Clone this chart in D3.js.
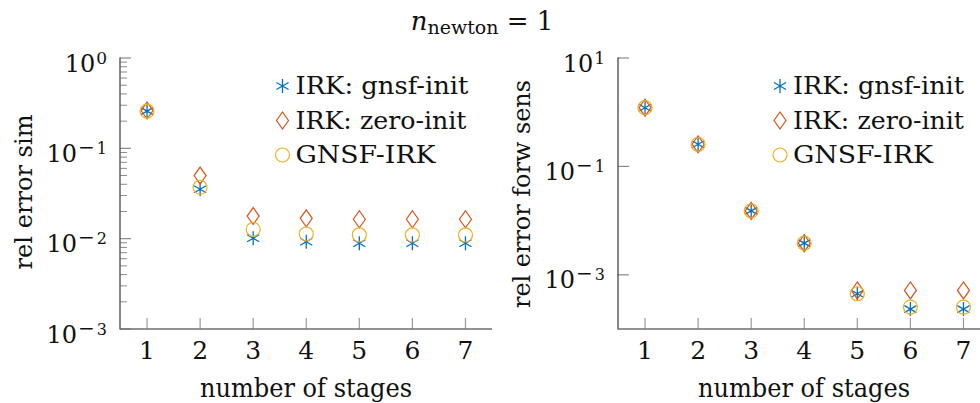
<!DOCTYPE html>
<html><head><meta charset="utf-8">
<script src="https://cdn.jsdelivr.net/npm/d3@7"></script>
<style>
html,body{margin:0;padding:0;background:#fff;}
svg{display:block;}
text{font-family:"DejaVu Serif","Liberation Serif",serif;fill:#111;}
</style></head>
<body>
<svg id="chart" width="980" height="403"></svg>
<script>
// ---- data ----
const stages = [1, 2, 3, 4, 5, 6, 7];
const seriesNames = ["IRK: gnsf-init", "IRK: zero-init", "GNSF-IRK"];
const seriesColors = ["#0072BD", "#D95319", "#EDB120"];
const seriesMarkers = ["asterisk", "diamond", "circle"];

const simGnsfInit = [0.258, 0.0352, 0.0101, 0.00925, 0.00889, 0.00889, 0.00889];
const simZeroInit = [0.262, 0.0499, 0.0178, 0.0168, 0.0164, 0.0164, 0.0164];
const simGnsfIrk  = [0.258, 0.0371, 0.0127, 0.01127, 0.0110, 0.0110, 0.0110];

const sensGnsfInit = [1.21, 0.256, 0.0151, 0.00384, 4.47e-4, 2.33e-4, 2.33e-4];
const sensZeroInit = [1.21, 0.256, 0.0151, 0.00384, 5.14e-4, 5.14e-4, 5.14e-4];
const sensGnsfIrk  = [1.21, 0.256, 0.0151, 0.00384, 4.47e-4, 2.54e-4, 2.54e-4];

const simTickExps = [0, -1, -2, -3];
const sensTickExps = [1, -1, -3];
const xTickLabels = ["1", "2", "3", "4", "5", "6", "7"];

const titleMain = "n", titleSub = "newton", titleRest = " = 1";
const xLabel = "number of stages";
const yLabelSim = "rel error sim";
const yLabelSens = "rel error forw sens";

// ---- drawing ----
const svg = d3.select("#chart");

function marker(g, type, x, y, color) {
  if (type === "circle") {
    g.append("circle").attr("cx", x).attr("cy", y).attr("r", 7)
      .attr("fill", "none").attr("stroke", color).attr("stroke-width", 1.2);
  } else if (type === "diamond") {
    g.append("path").attr("d", `M${x},${y-8.5}L${x+6},${y}L${x},${y+8.5}L${x-6},${y}Z`)
      .attr("fill", "none").attr("stroke", color).attr("stroke-width", 1.2);
  } else {
    const r = 7;
    let d = "";
    [90, 30, 150].forEach(a => {
      const rad = a * Math.PI / 180;
      const dx = r * Math.cos(rad), dy = r * Math.sin(rad);
      d += `M${x-dx},${y-dy}L${x+dx},${y+dy}`;
    });
    g.append("path").attr("d", d).attr("fill", "none").attr("stroke", color).attr("stroke-width", 1.3);
  }
}

function panel(opts) {
  const g = svg.append("g");
  const x = d3.scaleLinear().domain([0.5, 7.5]).range([opts.x0 + 0.5, opts.x1]);
  const y = d3.scaleLog().domain(opts.yDomain).range([329, 58]);

  // x ticks (inward)
  g.selectAll(".xt").data(stages).join("line")
    .attr("x1", d => x(d)).attr("x2", d => x(d))
    .attr("y1", 329).attr("y2", 318)
    .attr("stroke", "#9a9a9a").attr("stroke-width", 1.2);
  // x tick labels
  g.selectAll(".xl").data(stages).join("text")
    .attr("x", d => x(d)).attr("y", 359)
    .attr("text-anchor", "middle").attr("font-size", 25)
    .text((d, i) => xTickLabels[i]);

  // y minor ticks
  if (opts.minor) {
    const [lo, hi] = opts.yDomain;
    const minors = [];
    for (let e = Math.round(Math.log10(lo)); e < Math.round(Math.log10(hi)); e++)
      for (let m = 2; m <= 9; m++) minors.push(m * Math.pow(10, e));
    g.selectAll(".ym").data(minors).join("line")
      .attr("x1", opts.x0).attr("x2", opts.x0 + 7)
      .attr("y1", d => y(d)).attr("y2", d => y(d))
      .attr("stroke", "#8a8a8a").attr("stroke-width", 1);
  }
  // y major ticks
  g.selectAll(".yt").data(opts.tickExps).join("line")
    .attr("x1", opts.x0).attr("x2", opts.x0 + 11)
    .attr("y1", d => y(Math.pow(10, d))).attr("y2", d => y(Math.pow(10, d)))
    .attr("stroke", "#8a8a8a").attr("stroke-width", 1.2);
  // y tick labels: "10" with superscript exponent
  const tl = g.selectAll(".ytl").data(opts.tickExps).join("text")
    .attr("x", opts.x0 - 13).attr("y", d => y(Math.pow(10, d)) + 13.5)
    .attr("text-anchor", "end").attr("font-size", 24);
  tl.append("tspan").text("10");
  tl.each(function(d) {
    const el = d3.select(this);
    if (d < 0) {
      el.append("tspan").attr("font-size", 20).attr("dy", -8).attr("dx", 1).text("\u2212");
      el.append("tspan").attr("font-size", 16).attr("dx", 2).text(Math.abs(d));
    } else {
      el.append("tspan").attr("font-size", 17).attr("dy", -8).attr("dx", 1).text(d);
    }
  });

  // axis lines
  g.append("line").attr("x1", opts.x0).attr("x2", opts.x0).attr("y1", 57.5).attr("y2", 329.5)
    .attr("stroke", opts.yAxisColor).attr("stroke-width", opts.yAxisWidth);
  g.append("line").attr("x1", opts.x0).attr("x2", opts.x1).attr("y1", 329).attr("y2", 329)
    .attr("stroke", "#6e6e6e").attr("stroke-width", 1.6);

  // data
  opts.series.forEach((vals, si) => {
    vals.forEach((v, i) => marker(g, seriesMarkers[si], x(stages[i]), y(v), seriesColors[si]));
  });

  // legend
  const rowsY = [94, 128.5, 163];
  seriesNames.forEach((name, si) => {
    marker(g, seriesMarkers[si], opts.legX, rowsY[si] - 8, seriesColors[si]);
    const w = opts.legW[si];
    g.append("text").attr("x", opts.legX + 13).attr("y", rowsY[si])
      .attr("font-size", 25).attr("textLength", w).attr("lengthAdjust", "spacingAndGlyphs")
      .text(name);
  });

  // axis labels
  g.append("text").attr("x", (opts.x0 + opts.x1) / 2).attr("y", 397)
    .attr("text-anchor", "middle").attr("font-size", 26)
    .attr("textLength", 212).attr("lengthAdjust", "spacingAndGlyphs").text(xLabel);
  g.append("text")
    .attr("transform", `translate(${opts.yLabX},${opts.yLabY}) rotate(-90)`)
    .attr("text-anchor", "middle").attr("font-size", 25)
    .attr("textLength", opts.yLabLen).attr("lengthAdjust", "spacingAndGlyphs")
    .text(opts.yLabel);
}

panel({
  x0: 120, x1: 492, yDomain: [1e-3, 1], tickExps: simTickExps, minor: true,
  series: [simGnsfInit, simZeroInit, simGnsfIrk],
  legX: 282.5, legW: [173, 171, 140],
  yLabel: yLabelSim, yLabX: 32, yLabY: 192, yLabLen: 155,
  yAxisColor: "#555", yAxisWidth: 1.4
});
panel({
  x0: 618, x1: 990, yDomain: [1e-4, 10], tickExps: sensTickExps, minor: false,
  series: [sensGnsfInit, sensZeroInit, sensGnsfIrk],
  legX: 780, legW: [171, 171, 140],
  yLabel: yLabelSens, yLabX: 530, yLabY: 194, yLabLen: 228,
  yAxisColor: "#222", yAxisWidth: 1.1
});

// title
const t = svg.append("text").attr("x", 482).attr("y", 30)
  .attr("text-anchor", "middle").attr("font-size", 26);
t.append("tspan").attr("font-style", "italic").text(titleMain);
t.append("tspan").attr("font-size", 19).attr("dy", 4).text(titleSub);
t.append("tspan").attr("dy", -4).text(titleRest);
</script>
</body></html>
